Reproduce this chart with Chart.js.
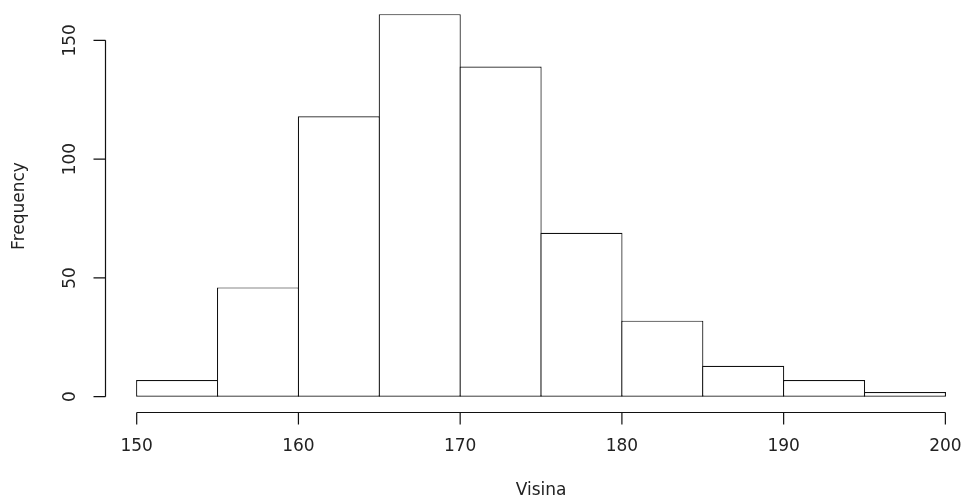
<!DOCTYPE html>
<html lang="sr">
<head>
    <meta charset="UTF-8">
    <title>Histogram - Visina</title>
    <script src="https://cdn.jsdelivr.net/npm/chart.js"></script>
    <style>
        html, body { margin: 0; padding: 0; background: #fff; }
        .chart-container { width: 964px; height: 499px; position: relative; }
    </style>
</head>
<body>
    <div class="chart-container">
        <canvas id="histChart"></canvas>
    </div>

    <script>
        // histogram bins and counts
        const breaks = [150, 155, 160, 165, 170, 175, 180, 185, 190, 195, 200];
        const counts = [7, 46, 118, 161, 139, 69, 32, 13, 7, 2];
        const xTicks = [150, 160, 170, 180, 190, 200];
        const yTicks = [0, 50, 100, 150];
        const xTitle = 'Visina';
        const yTitle = 'Frequency';

        const inkColor = '#111';
        const textColor = '#222';
        const font = '17px "DejaVu Sans", sans-serif';

        const barData = counts.map((c, i) => ({ x: (breaks[i] + breaks[i + 1]) / 2, y: c }));

        // R style axes, drawn from the chart scales
        const rAxes = {
            id: 'rAxes',
            afterDraw(chart) {
                const ctx = chart.ctx;
                const xs = chart.scales.x;
                const ys = chart.scales.y;
                const area = chart.chartArea;
                const tick = 12;
                ctx.save();
                ctx.strokeStyle = inkColor;
                ctx.fillStyle = textColor;
                ctx.lineWidth = 1.2;
                ctx.font = font;

                // x axis
                const ay = Math.round(area.bottom) + 0.5;
                ctx.beginPath();
                ctx.moveTo(xs.getPixelForValue(xTicks[0]), ay);
                ctx.lineTo(xs.getPixelForValue(xTicks[xTicks.length - 1]), ay);
                xTicks.forEach(v => {
                    const px = xs.getPixelForValue(v);
                    ctx.moveTo(px, ay);
                    ctx.lineTo(px, ay + tick);
                });
                ctx.stroke();
                ctx.textAlign = 'center';
                ctx.textBaseline = 'middle';
                xTicks.forEach(v => {
                    ctx.fillText(String(v), xs.getPixelForValue(v), ay + 34);
                });
                ctx.fillText(xTitle, (xs.getPixelForValue(xTicks[0]) + xs.getPixelForValue(xTicks[xTicks.length - 1])) / 2, ay + 78);

                // y axis
                const ax = Math.round(area.left) + 0.5;
                ctx.beginPath();
                ctx.moveTo(ax, ys.getPixelForValue(yTicks[0]));
                ctx.lineTo(ax, ys.getPixelForValue(yTicks[yTicks.length - 1]));
                yTicks.forEach(v => {
                    const py = ys.getPixelForValue(v);
                    ctx.moveTo(ax, py);
                    ctx.lineTo(ax - tick, py);
                });
                ctx.stroke();
                yTicks.forEach(v => {
                    ctx.save();
                    ctx.translate(ax - 35, ys.getPixelForValue(v));
                    ctx.rotate(-Math.PI / 2);
                    ctx.fillText(String(v), 0, 0);
                    ctx.restore();
                });
                ctx.save();
                ctx.translate(20, (area.top + area.bottom) / 2);
                ctx.rotate(-Math.PI / 2);
                ctx.fillText(yTitle, 0, 0);
                ctx.restore();

                ctx.restore();
            }
        };

        new Chart(document.getElementById('histChart'), {
            type: 'bar',
            data: {
                datasets: [{
                    data: barData,
                    backgroundColor: '#fff',
                    borderColor: inkColor,
                    borderWidth: 1.2,
                    borderSkipped: false,
                    inflateAmount: 0,
                    barPercentage: 1.015,
                    categoryPercentage: 1
                }]
            },
            options: {
                responsive: true,
                maintainAspectRatio: false,
                animation: false,
                layout: { padding: { left: 105, right: 1, top: 0, bottom: 87 } },
                plugins: {
                    legend: { display: false },
                    tooltip: { enabled: false }
                },
                scales: {
                    x: { type: 'linear', offset: false, min: 148.04, max: 201.09, display: false },
                    y: { min: -6.44, max: 166.96, display: false }
                }
            },
            plugins: [rAxes]
        });
    </script>
</body>
</html>
